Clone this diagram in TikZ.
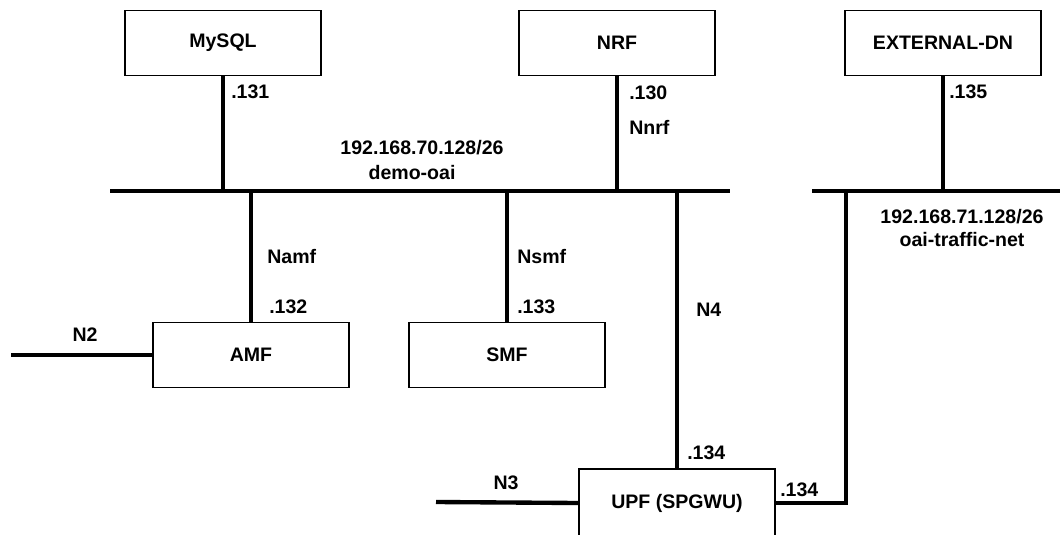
\documentclass[tikz,border=0pt]{standalone}
\usepackage{fontspec}
\setmainfont{Liberation Sans}
\usepackage{tikz}
\usetikzlibrary{positioning}

\begin{document}
\begin{tikzpicture}[
  x=0.025cm, y=-0.025cm,
  every node/.style={font=\fontsize{13.9}{16}\selectfont\bfseries},
  nfbox/.style={rectangle, draw, line width=0.85pt, fill=white,
                minimum width=4.9cm, minimum height=1.625cm, inner sep=0pt},
  link/.style={line width=3.1pt},
  lbl/.style={anchor=west, inner sep=0pt},
]
  \useasboundingbox (0,0) rectangle (1060,534);
  \clip (0,0) rectangle (1060,534);

  % Network functions
  \node[nfbox] (mysql) at (223,43) {MySQL};
  \node[nfbox] (nrf) at (617,43) {NRF};
  \node[nfbox] (extdn) at (943,43) {EXTERNAL-DN};
  \node[nfbox] (amf) at (251,355) {AMF};
  \node[nfbox] (smf) at (507,355) {SMF};
  \node[nfbox, minimum height=1.7cm] (upf) at (677,503) {UPF (SPGWU)};

  % Bus ends and free ends
  \coordinate (oaiW) at (110,191);
  \coordinate (oaiE) at (730,191);
  \coordinate (trfW) at (812,191);
  \coordinate (trfE) at (1062,191);
  \coordinate (trfT) at (846,191);
  \coordinate (n2end) at (11,355);
  \coordinate (n3end) at (436,502);

  % Buses
  \draw[link] (oaiW) -- (oaiE);
  \draw[link] (trfW) -- (trfE);

  % Drops
  \draw[link] (mysql.south) -- (mysql.south |- oaiW);
  \draw[link] (nrf.south) -- (nrf.south |- oaiW);
  \draw[link] (extdn.south) -- (extdn.south |- trfW);
  \draw[link] (amf.north) -- (amf.north |- oaiW);
  \draw[link] (smf.north) -- (smf.north |- oaiW);
  \draw[link] (upf.north) -- (upf.north |- oaiW);
  \draw[link] (upf.east) -| (trfT);

  % Radio side
  \draw[link] (n2end) -- (amf.west);
  \draw[link] (n3end) -- (upf.west);

  % Labels
  \node[lbl] (ip131) at (231,92) {.131};
  \node[lbl] (ip130) at (629,93) {.130};
  \node[lbl] (nnrf) at (629,127) {Nnrf};
  \node (oainet) at (422,148) {192.168.70.128/26};
  \node (oainame) at (412,173) {demo-oai};
  \node[lbl] (ip135) at (949,92) {.135};
  \node (trfnet) at (962,217) {192.168.71.128/26};
  \node (trfname) at (962,240) {oai-traffic-net};
  \node[lbl] (namf) at (267,257) {Namf};
  \node[lbl] (ip132) at (269,307) {.132};
  \node[lbl] (nsmf) at (517,257) {Nsmf};
  \node[lbl] (ip133) at (517,307) {.133};
  \node[lbl] (n4) at (696,310) {N4};
  \node[lbl] (ip134a) at (687,453) {.134};
  \node[lbl] (ip134b) at (780,490) {.134};
  \node (n2) at (85,335) {N2};
  \node (n3) at (506,483) {N3};
\end{tikzpicture}
\end{document}
